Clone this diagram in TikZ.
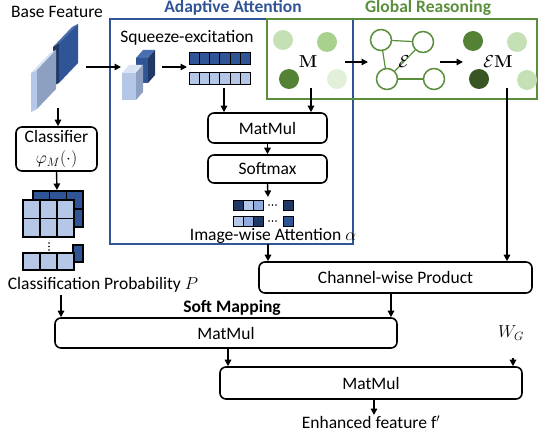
\documentclass[tikz,border=0pt]{standalone}
\usepackage[no-math]{fontspec}
\setmainfont{Carlito}
\usetikzlibrary{arrows.meta}
\definecolor{frameblue}{HTML}{2F5597}
\definecolor{framegreen}{HTML}{5B8F3C}
\definecolor{navy}{HTML}{203864}
\definecolor{dblue}{HTML}{2F5597}
\definecolor{lblue}{HTML}{B4C7E7}
\definecolor{mblue}{HTML}{8FAADC}
\definecolor{gblue}{HTML}{8EA0C2}
\definecolor{vlblue}{HTML}{DAE3F3}
\definecolor{tblue}{HTML}{4A6FB0}
\definecolor{gA}{HTML}{C5E0B4}
\definecolor{gB}{HTML}{A9D18E}
\definecolor{gC}{HTML}{548235}
\definecolor{gD}{HTML}{E2F0D9}
\definecolor{gE}{HTML}{375623}
\begin{document}
\begin{tikzpicture}[x=1pt,y=-1pt,
  font=\fontsize{17.5}{21}\selectfont,
  box/.style={draw, line width=1.6pt, rounded corners=6pt, inner sep=0pt},
  arr/.style={-{Triangle[length=6.5pt,width=6.5pt]}, line width=1.4pt},
  dotc/.style={circle, minimum size=20pt, inner sep=0pt},
  gnode/.style={circle, draw=framegreen, line width=1.5pt, fill=white, minimum size=21pt, inner sep=0pt},
  gedge/.style={framegreen, line width=1.2pt},
  cell/.style={draw=black, line width=1.3pt},
  sq/.style={draw=black, line width=1pt},
  title/.style={anchor=base, font=\fontsize{17.5}{21}\selectfont\bfseries}]
\useasboundingbox (0,0) rectangle (540,433);

% frames
\draw[frameblue, line width=1.8pt] (110,19) rectangle (353,244);
\draw[framegreen, line width=1.8pt] (267,19) rectangle (537,99);
\node[title, text=frameblue] (aat) at (233,13) {Adaptive Attention};
\node[title, text=framegreen] (grt) at (428,13) {Global Reasoning};

% base feature slabs
\node[anchor=base] (bf) at (57,18) {Base Feature};
\fill[navy] (53,47) -- (59,43) -- (59,83) -- (53,86) -- cycle;
\fill[tblue] (53,47) -- (72,27) -- (78,24) -- (59,43) -- cycle;
\fill[dblue] (59,43) -- (78,24) -- (78,63) -- (59,83) -- cycle;
\fill[lblue] (31,73) -- (37,70) -- (37,109) -- (31,112) -- cycle;
\fill[vlblue] (31,73) -- (50,53) -- (56,50) -- (37,70) -- cycle;
\fill[gblue] (37,70) -- (56,50) -- (56,89) -- (37,109) -- cycle;
\coordinate (bfR) at (86,67);
\coordinate (bfB) at (58,108);

% squeeze-excitation cubes
\node[anchor=base] (se) at (187,43) {Squeeze-excitation};
\fill[tblue] (136,58) -- (143,50) -- (155,50) -- (148,58) -- cycle;
\fill[navy] (148,58) -- (155,50) -- (155,75) -- (148,83) -- cycle;
\fill[dblue] (136,58) rectangle (148,83);
\fill[vlblue] (122,73) -- (129,65) -- (143,65) -- (136,73) -- cycle;
\fill[gblue] (136,73) -- (143,65) -- (143,92) -- (136,100) -- cycle;
\fill[lblue] (122,73) rectangle (136,100);
\coordinate (seL) at (121,67);
\coordinate (seR) at (162,67);

% bars
\foreach \i in {0,...,5} {
  \filldraw[sq, fill=dblue] (189+10.33*\i,53) rectangle ++(10.33,12);
  \filldraw[sq, fill=lblue] (189+10.33*\i,73) rectangle ++(10.33,12);
}
\coordinate (barsL) at (187,67);
\coordinate (barsB) at (224,88);

% M dots
\node[dotc, fill=gA] (m1) at (283,40) {};
\node[dotc, fill=gB] (m2) at (327,42) {};
\node[dotc, fill=gC] (m3) at (289,79) {};
\node[dotc, fill=gD] (m4) at (337,79) {};
\node (mlab) at (308,62) {$\mathbf{M}$};
\coordinate (mB) at (311,88);
\coordinate (mR) at (345,62);

% graph
\node[gnode] (g1) at (381,40) {};
\node[gnode] (g2) at (423,42) {};
\node[gnode] (g3) at (387,79) {};
\node[gnode] (g4) at (434,79) {};
\draw[gedge] (g1) -- (g2);
\draw[gedge] (g1) -- (g3);
\draw[gedge] (g3) -- (g2);
\draw[gedge] (g3) -- (g4);
\node (elab) at (404,62) {$\mathcal{E}$};
\coordinate (gL) at (368,62);
\coordinate (gR) at (440,62);

% EM dots
\node[dotc, fill=gC] (e1) at (473,41) {};
\node[dotc, fill=gA] (e2) at (517,42) {};
\node[dotc, fill=gE] (e3) at (479,79) {};
\node[dotc, fill=gA] (e4) at (527,80) {};
\node (emlab) at (498,62) {$\mathcal{E}\mathbf{M}$};
\coordinate (emL) at (463,62);
\coordinate (emB) at (507,88);

% attention column
\node[box, minimum width=119pt, minimum height=30pt] (mm1) at (267.5,128) {MatMul};
\node[box, minimum width=119pt, minimum height=28pt] (soft) at (267.5,169) {Softmax};
\foreach \c [count=\k from 0] in {navy,lblue,mblue} {
  \filldraw[sq, fill=\c] (233+10*\k,200) rectangle ++(10,10);
}
\foreach \c [count=\k from 0] in {lblue,mblue,navy} {
  \filldraw[sq, fill=\c] (233+10*\k,216) rectangle ++(10,10);
}
\filldraw[sq, fill=navy] (283,200) rectangle ++(10,10);
\filldraw[sq, fill=dblue] (283,216) rectangle ++(10,10);
\foreach \x in {269,272.5,276} {
  \fill (\x,205) circle (0.9);
  \fill (\x,221) circle (0.9);
}
\coordinate (attT) at (268,197);
\coordinate (attB) at (268,244);
\node[anchor=base] (iwa) at (273,240) {Image-wise Attention $\alpha$};

% classifier
\node[box, minimum width=81pt, minimum height=44pt, align=center] (cls) at (56.5,149) {Classifier\\$\varphi_M(\cdot)$};

% probability stack
\foreach \r in {0,1} { \foreach \c in {0,1,2} {
  \filldraw[cell, fill=dblue] (33+16.67*\c,191+18*\r) rectangle ++(16.67,18);
}}
\foreach \r in {0,1} { \foreach \c in {0,1,2} {
  \filldraw[cell, fill=lblue] (23+17*\c,200+18.5*\r) rectangle ++(17,18.5);
}}
\foreach \y in {243,246.5,250} { \fill (49,\y) circle (0.8); }
\filldraw[cell, fill=dblue] (73,245) rectangle (83,262);
\foreach \c in {0,1,2} {
  \filldraw[cell, fill=lblue] (23+17*\c,253) rectangle ++(17,17);
}
\coordinate (stT) at (57,190);
\node[anchor=base] (cp) at (103,289) {Classification Probability $P$};
\coordinate (cpB) at (61,295);

% lower part
\node[box, minimum width=273pt, minimum height=31pt] (cwp) at (395.5,277.5) {Channel-wise Product};
\node[title] (sm) at (232,312) {Soft Mapping};
\node[box, minimum width=342pt, minimum height=30pt] (mm2) at (226,333) {MatMul};
\node (wg) at (511,333) {$W_G$};
\coordinate (wgB) at (513,358);
\node[box, minimum width=302pt, minimum height=32pt] (mm3) at (371,383) {MatMul};
\coordinate (efT) at (374,415);
\node[anchor=base] (ef) at (371,428.5) {Enhanced feature f$'$};

% arrows
\draw[arr] (bfR) -- (seL);
\draw[arr] (seR) -- (barsL);
\draw[arr] (barsB) -- (barsB |- mm1.north);
\draw[arr] (mB) -- (mB |- mm1.north);
\draw[arr] (mR) -- (gL);
\draw[arr] (gR) -- (emL);
\draw[arr] (mm1.south) -- (soft.north);
\draw[arr] (soft.south) -- (attT);
\draw[arr] (attB) -- (attB |- cwp.north);
\draw[arr] (emB) -- (emB |- cwp.north);
\draw[arr] (bfB) -- (bfB |- cls.north);
\draw[arr] (cls.south) -- (stT);
\draw[arr] (cpB) -- (cpB |- mm2.north);
\draw[arr] ([xshift=-4.5pt]cwp.south) -- ([xshift=-4.5pt]cwp.south |- mm2.north);
\draw[arr] (mm2.south -| 228,0) -- (mm3.north -| 228,0);
\draw[arr] (wgB) -- (wgB |- mm3.north);
\draw[arr] (mm3.south -| efT) -- (efT);
\end{tikzpicture}
\end{document}
